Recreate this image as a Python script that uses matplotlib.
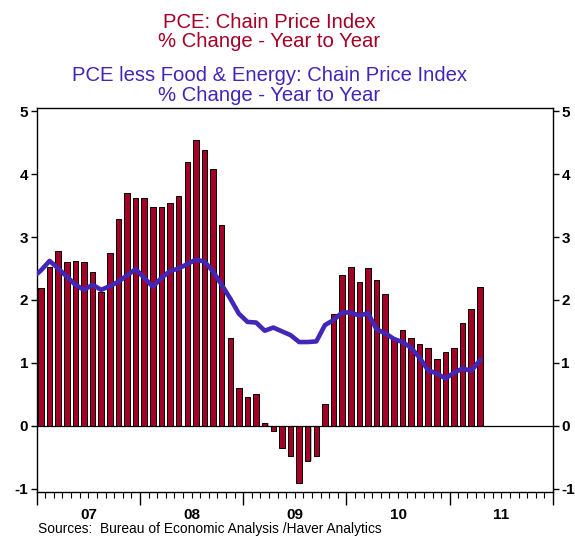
import matplotlib.pyplot as plt
import matplotlib.transforms as mtransforms
import numpy as np

plt.rcParams["font.family"] = ["Liberation Sans", "DejaVu Sans"]

# PCE chain price index, % change y/y, monthly from Jan 2007 to Apr 2011
pce = [2.19, 2.52, 2.77, 2.60, 2.62, 2.60, 2.45, 2.13, 2.74, 3.28, 3.70, 3.62,
       3.62, 3.48, 3.48, 3.54, 3.66, 4.19, 4.54, 4.38, 4.08, 3.19, 1.40, 0.60,
       0.46, 0.51, 0.04, -0.09, -0.35, -0.48, -0.91, -0.56, -0.49, 0.34, 1.77, 2.40,
       2.52, 2.28, 2.51, 2.31, 2.10, 1.39, 1.52, 1.39, 1.30, 1.23, 1.06, 1.17,
       1.23, 1.63, 1.85, 2.21]

# PCE less food & energy, monthly from Dec 2006 to Apr 2011
core = [2.35,
        2.47, 2.62, 2.50, 2.37, 2.24, 2.16, 2.24, 2.16, 2.22, 2.29, 2.39, 2.49,
        2.35, 2.21, 2.35, 2.46, 2.50, 2.57, 2.64, 2.61, 2.45, 2.24, 2.02, 1.78,
        1.65, 1.64, 1.51, 1.56, 1.50, 1.44, 1.33, 1.33, 1.34, 1.60, 1.68, 1.80,
        1.80, 1.75, 1.79, 1.53, 1.47, 1.38, 1.33, 1.24, 1.08, 0.88, 0.83, 0.75,
        0.84, 0.91, 0.87, 1.04]

years = ["07", "08", "09", "10", "11"]

RED = "#a50026"
BLUE = "#4226b8"

fig = plt.figure(figsize=(5.75, 5.37), dpi=100)
ax = fig.add_axes([0.0638, 0.0844, 0.8979, 0.7154])

x_bar = np.arange(len(pce)) + 0.5
x_line = np.arange(len(core)) - 0.5

# light shadow behind each bar, then the bar itself
ax.bar(x_bar + 0.12, pce, width=0.64, color="#b5b5b5", zorder=2)
ax.bar(x_bar, pce, width=0.64, color=RED, edgecolor="black", linewidth=0.7, zorder=3)
ax.plot(x_line, core, color=BLUE, linewidth=3.3, zorder=4, solid_joinstyle="round")
ax.axhline(0, color="black", linewidth=0.9, zorder=5)

ax.set_xlim(0, 60)
ax.set_ylim(-1.05, 5.06)

# x axis: year boundaries long ticks, months short ticks, labels mid-year
ax.set_xticks(np.arange(0, 61, 12))
ax.set_xticklabels([])
ax.set_xticks(np.arange(0, 61, 1), minor=True)
ax.tick_params(axis="x", which="major", direction="out", length=9.5, width=1.0)
ax.tick_params(axis="x", which="minor", direction="out", length=4, width=0.8)
trans = mtransforms.blended_transform_factory(ax.transData, ax.transAxes)
for k, yr in enumerate(years):
    ax.text(6 + 12 * k, -0.06, yr, transform=trans, ha="center", va="center",
            fontsize=11, fontweight="bold")

# y axis: ticks and labels on both sides
ax.set_yticks(np.arange(-1, 6, 1))
ax.set_yticklabels([str(v) for v in range(-1, 6)], fontweight="bold", fontsize=11)
ax.tick_params(axis="y", which="both", direction="out", length=4, width=1.0,
               left=True, right=True, labelleft=True, labelright=True, pad=2)
for lbl in ax.get_yticklabels(which="both"):
    lbl.set_fontweight("bold")

for sp in ax.spines.values():
    sp.set_linewidth(1.0)

# titles
fig.text(0.4687, 0.959, "PCE: Chain Price Index", color=RED, fontsize=14.6,
         ha="center", va="center")
fig.text(0.4687, 0.922, "% Change - Year to Year", color=RED, fontsize=14.6,
         ha="center", va="center")
fig.text(0.4687, 0.859, "PCE less Food & Energy: Chain Price Index", color=BLUE,
         fontsize=14.6, ha="center", va="center")
fig.text(0.4687, 0.823, "% Change - Year to Year", color=BLUE, fontsize=14.6,
         ha="center", va="center")

fig.text(0.066, 0.0149, "Sources:  Bureau of Economic Analysis /Haver Analytics",
         fontsize=9.9, ha="left", va="center")

fig.savefig("out.png", dpi=100)
